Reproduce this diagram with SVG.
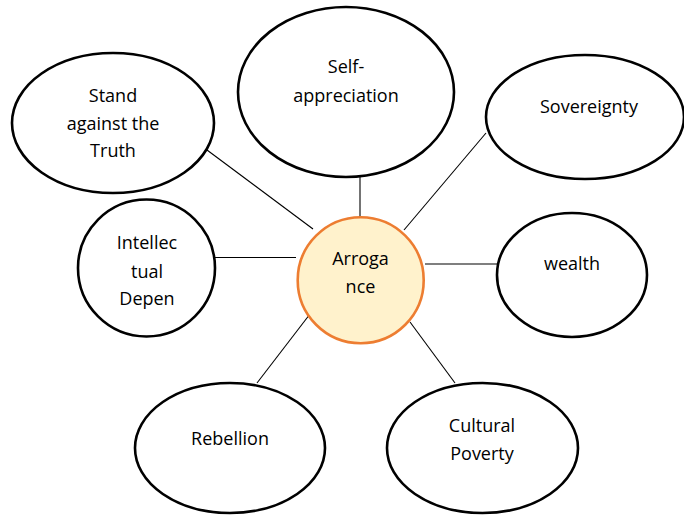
<svg xmlns="http://www.w3.org/2000/svg" width="684" height="515" viewBox="0 0 684 515">
<style>
.n{fill:#fff;stroke:#000;stroke-width:2.6}
.c{fill:#FFF2CC;stroke:#ED7D31;stroke-width:2.6}
.l{stroke:#000;stroke-width:1.1;fill:none}
text{font-family:"Open Sans","Noto Sans","Liberation Sans",sans-serif;font-size:18px;fill:#000;text-anchor:middle}
</style>
<rect width="684" height="515" fill="#fff"/>
<g id="connectors">
<line class="l" x1="360" y1="177" x2="360" y2="218"/>
<line class="l" x1="207" y1="150" x2="313" y2="229"/>
<line class="l" x1="486" y1="133" x2="404" y2="230"/>
<line class="l" x1="215" y1="257.5" x2="296" y2="257.5"/>
<line class="l" x1="425" y1="264" x2="497" y2="264"/>
<line class="l" x1="257" y1="383" x2="310" y2="314"/>
<line class="l" x1="410" y1="322" x2="455" y2="383"/>
</g>
<g id="self-appreciation">
<ellipse class="n" cx="346" cy="92" rx="108" ry="85"/>
<text x="346" y="73">Self-</text>
<text x="346" y="102">appreciation</text>
</g>
<g id="stand-against-truth">
<ellipse class="n" cx="113" cy="123" rx="101" ry="70"/>
<text x="113" y="102">Stand</text>
<text x="113" y="129.5">against the</text>
<text x="113" y="157">Truth</text>
</g>
<g id="sovereignty">
<ellipse class="n" cx="585" cy="117" rx="99" ry="62"/>
<text x="589" y="113">Sovereignty</text>
</g>
<g id="intellectual-dependence">
<ellipse class="n" cx="146.5" cy="268" rx="68.5" ry="68.5"/>
<text x="147" y="249">Intellec</text>
<text x="147" y="277.5">tual</text>
<text x="147" y="305">Depen</text>
</g>
<g id="wealth">
<ellipse class="n" cx="572" cy="275" rx="75" ry="62"/>
<text x="572" y="270">wealth</text>
</g>
<g id="rebellion">
<ellipse class="n" cx="230" cy="448" rx="95" ry="65"/>
<text x="230" y="445">Rebellion</text>
</g>
<g id="cultural-poverty">
<ellipse class="n" cx="482.5" cy="448" rx="95.5" ry="65"/>
<text x="482" y="432">Cultural</text>
<text x="482" y="460">Poverty</text>
</g>
<g id="arrogance">
<circle class="c" cx="360.7" cy="280.2" r="63"/>
<text x="360.5" y="265">Arroga</text>
<text x="360.5" y="293">nce</text>
</g>
</svg>
